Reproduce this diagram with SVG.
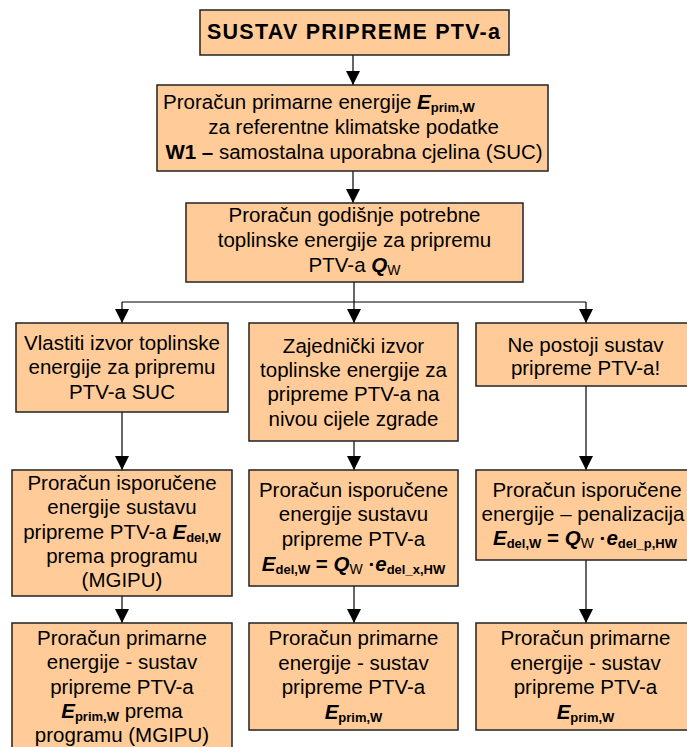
<svg xmlns="http://www.w3.org/2000/svg" width="687" height="747" viewBox="0 0 687 747">
<style>
.box{fill:#FFCC99;stroke:#222;stroke-width:1.5}
text{font-family:"Liberation Sans",Arial,sans-serif;font-size:20.5px;fill:#000;text-anchor:middle}
.b{font-weight:bold}
.bi{font-weight:bold;font-style:italic}
.sub{font-size:13px;font-weight:bold}
.subr{font-size:14px}
.ln{stroke:#000;stroke-width:1.2;fill:none}
</style>
<defs>
<marker id="ah" markerUnits="userSpaceOnUse" markerWidth="14" markerHeight="14" refX="14" refY="7" orient="auto">
<path d="M0,0 L14,7 L0,14 Z" fill="#000"/>
</marker>
</defs>
<rect width="687" height="747" fill="#fff"/>
<g id="connectors">
<path class="ln" d="M353,55 V85" marker-end="url(#ah)"/>
<path class="ln" d="M353,171 V203" marker-end="url(#ah)"/>
<path class="ln" d="M354,282 V323" marker-end="url(#ah)"/>
<path class="ln" d="M122,302 H586"/>
<path class="ln" d="M122,302 V323" marker-end="url(#ah)"/>
<path class="ln" d="M586,302 V323" marker-end="url(#ah)"/>
<path class="ln" d="M122,412 V470" marker-end="url(#ah)"/>
<path class="ln" d="M354,441 V470" marker-end="url(#ah)"/>
<path class="ln" d="M586,386 V470" marker-end="url(#ah)"/>
<path class="ln" d="M122,596 V623" marker-end="url(#ah)"/>
<path class="ln" d="M354,586 V623" marker-end="url(#ah)"/>
<path class="ln" d="M586,560 V623" marker-end="url(#ah)"/>
</g>
<g id="title">
<rect class="box" x="200" y="10" width="309" height="45"/>
<text class="b" x="207" y="39" style="text-anchor:start;font-size:21.5px" textLength="293" lengthAdjust="spacing">SUSTAV PRIPREME PTV-a</text>
</g>
<g id="prim-ref">
<rect class="box" x="157" y="85" width="391" height="86"/>
<text x="163" y="109" style="text-anchor:start">Proračun primarne energije <tspan class="bi">E</tspan><tspan class="sub" dy="3">prim,W</tspan></text>
<text x="353.5" y="134">za referentne klimatske podatke</text>
<text x="354" y="159"><tspan class="b">W1 –</tspan> samostalna uporabna cjelina (SUC)</text>
</g>
<g id="qw">
<rect class="box" x="186" y="203" width="337" height="79"/>
<text x="354.5" y="222">Proračun godišnje potrebne</text>
<text x="354.5" y="247">toplinske energije za pripremu</text>
<text x="354.5" y="272">PTV-a <tspan class="bi">Q</tspan><tspan class="subr" dy="3">W</tspan></text>
</g>
<g id="own-source">
<rect class="box" x="16" y="323" width="212" height="89"/>
<text x="122" y="350">Vlastiti izvor toplinske</text>
<text x="122" y="374">energije za pripremu</text>
<text x="122" y="399">PTV-a SUC</text>
</g>
<g id="common-source">
<rect class="box" x="249" y="323" width="209" height="118"/>
<text x="353.5" y="352.5">Zajednički izvor</text>
<text x="353.5" y="376.5">toplinske energije za</text>
<text x="353.5" y="401">pripreme PTV-a na</text>
<text x="353.5" y="425.5">nivou cijele zgrade</text>
</g>
<g id="no-system">
<rect class="box" x="476" y="323" width="213" height="63"/>
<text x="585.5" y="351.5">Ne postoji sustav</text>
<text x="585.5" y="375">pripreme PTV-a!</text>
</g>
<g id="del-left">
<rect class="box" x="12" y="470" width="220" height="126"/>
<text x="122" y="489.5">Proračun isporučene</text>
<text x="122" y="513.5">energije sustavu</text>
<text x="122" y="538.5">pripreme PTV-a <tspan class="bi">E</tspan><tspan class="sub" dy="3">del,W</tspan></text>
<text x="122" y="562.5">prema programu</text>
<text x="122" y="586.5">(MGIPU)</text>
</g>
<g id="del-mid">
<rect class="box" x="249" y="470" width="209" height="116"/>
<text x="353.5" y="496.5">Proračun isporučene</text>
<text x="353.5" y="521">energije sustavu</text>
<text x="353.5" y="545.5">pripreme PTV-a</text>
<text x="353.5" y="570.5"><tspan class="bi">E</tspan><tspan class="sub" dy="3">del,W</tspan><tspan class="b" dy="-3"> = </tspan><tspan class="bi">Q</tspan><tspan class="subr" dy="3">W</tspan><tspan class="b" dy="-3"> ·</tspan><tspan class="bi">e</tspan><tspan class="sub" dy="3">del_x,HW</tspan></text>
</g>
<g id="del-right">
<rect class="box" x="476" y="470" width="213" height="90"/>
<text x="587" y="496.5">Proračun isporučene</text>
<text x="583" y="520.5">energije – penalizacija</text>
<text x="585" y="545"><tspan class="bi">E</tspan><tspan class="sub" dy="3">del,W</tspan><tspan class="b" dy="-3"> = </tspan><tspan class="bi">Q</tspan><tspan class="subr" dy="3">W</tspan><tspan class="b" dy="-3"> ·</tspan><tspan class="bi">e</tspan><tspan class="sub" dy="3">del_p,HW</tspan></text>
</g>
<g id="prim-left">
<rect class="box" x="12" y="623" width="220" height="130"/>
<text x="122" y="645">Proračun primarne</text>
<text x="122" y="668.5">energije - sustav</text>
<text x="122" y="693.5">pripreme PTV-a</text>
<text x="122" y="718"><tspan class="bi">E</tspan><tspan class="sub" dy="3">prim,W</tspan><tspan dy="-3"> prema</tspan></text>
<text x="122" y="742">programu (MGIPU)</text>
</g>
<g id="prim-mid">
<rect class="box" x="249" y="623" width="209" height="107"/>
<text x="353.5" y="645">Proračun primarne</text>
<text x="353.5" y="669.5">energije - sustav</text>
<text x="353.5" y="694">pripreme PTV-a</text>
<text x="353.5" y="718.5"><tspan class="bi">E</tspan><tspan class="sub" dy="3">prim,W</tspan></text>
</g>
<g id="prim-right">
<rect class="box" x="476" y="623" width="213" height="107"/>
<text x="585.5" y="645">Proračun primarne</text>
<text x="585.5" y="669.5">energije - sustav</text>
<text x="585.5" y="694">pripreme PTV-a</text>
<text x="585.5" y="718.5"><tspan class="bi">E</tspan><tspan class="sub" dy="3">prim,W</tspan></text>
</g>
</svg>
